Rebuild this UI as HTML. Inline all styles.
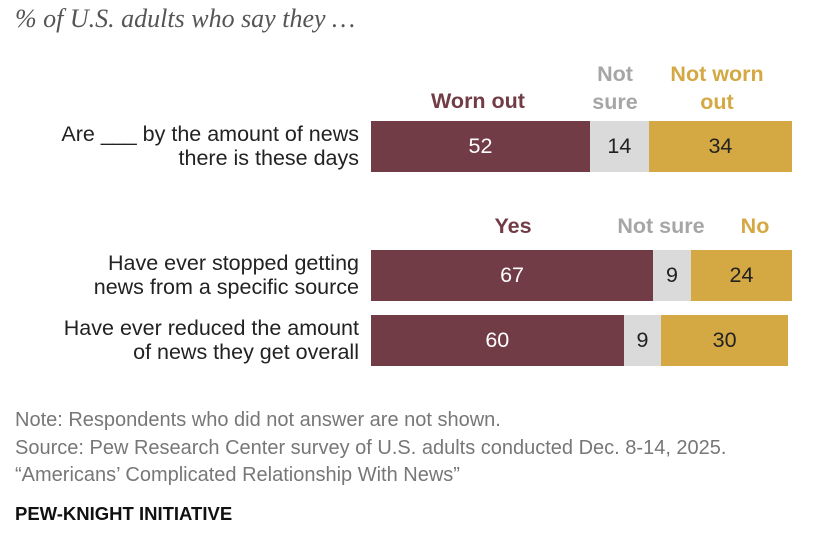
<!DOCTYPE html>
<html><head><meta charset="utf-8"><style>
body{margin:0;width:818px;height:535px;background:#fff;position:relative;overflow:hidden;font-family:"Liberation Sans",sans-serif}
.a{position:absolute;white-space:nowrap}
.t{font-family:"Liberation Serif",serif;font-style:italic;font-size:26px;color:#555;left:15px;top:4px}
.lab{font-size:21.5px;color:#222;text-align:right;right:459px;line-height:24px}
.h{font-size:21.5px;font-weight:bold;text-align:center;line-height:28px;transform:translateX(-50%)}
.n{font-size:20px;color:#777;left:15px}
</style></head><body>
<div class="a t">% of U.S. adults who say they …</div>
<div class="a h" style="left:478px;top:87px;color:#723c46">Worn out</div>
<div class="a h" style="left:615px;top:60px;color:#a6a6a6">Not<br>sure</div>
<div class="a h" style="left:717px;top:60px;color:#d4a843">Not worn<br>out</div>
<div class="a h" style="left:513px;top:212px;color:#723c46">Yes</div>
<div class="a h" style="left:661px;top:212px;color:#a6a6a6">Not sure</div>
<div class="a h" style="left:755px;top:212px;color:#d4a843">No</div>
<div id="chart"></div>
<div class="a n" style="top:409px">Note: Respondents who did not answer are not shown.</div>
<div class="a n" style="top:437px">Source: Pew Research Center survey of U.S. adults conducted Dec. 8-14, 2025.</div>
<div class="a n" style="top:464px">“Americans’ Complicated Relationship With News”</div>
<div class="a" style="left:15px;top:503px;font-size:18.5px;font-weight:bold;color:#111">PEW-KNIGHT INITIATIVE</div>
<script>
const categories=["Are ___ by the amount of news<br>there is these days","Have ever stopped getting<br>news from a specific source","Have ever reduced the amount<br>of news they get overall"];
const firstVals=[52,67,60];
const notSureVals=[14,9,9];
const lastVals=[34,24,30];
const rowTops=[121,250,315];
const x0=371,scale=4.21,bh=51;
const colors=["#723c46","#dadada","#d4a843"];
const txt=["#fff","#222","#222"];
const c=document.getElementById('chart');
categories.forEach((cat,i)=>{
  const l=document.createElement('div');
  l.className='a lab';l.style.top=(rowTops[i]+1)+'px';l.innerHTML=cat;
  
  
  c.appendChild(l);
  let x=x0;
  [firstVals[i],notSureVals[i],lastVals[i]].forEach((v,j)=>{
    const w=v*scale;
    const s=document.createElement('div');
    s.className='a';
    s.style.cssText=`left:${x}px;top:${rowTops[i]}px;width:${w}px;height:${bh}px;background:${colors[j]};color:${txt[j]};font-size:21.5px;line-height:${bh}px;text-align:center`;
    s.textContent=v;
    
    
    c.appendChild(s);
    x+=w;
  });
});
</script>
</body></html>
